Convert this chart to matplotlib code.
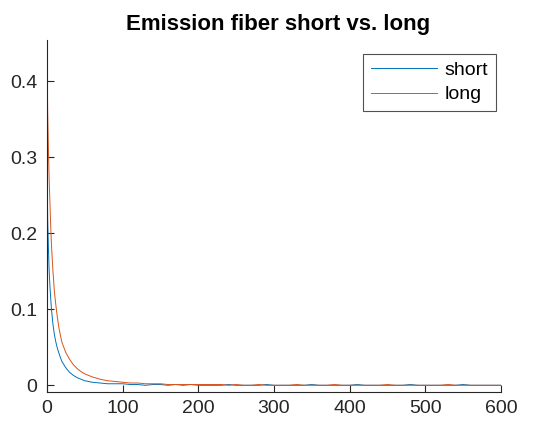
import matplotlib.pyplot as plt

plt.rcParams['font.family'] = ['Liberation Sans', 'DejaVu Sans']

# sample times and measured intensity for both fibers
t_head = [0, 1, 2, 3, 4, 5, 6, 8, 10, 12, 14, 16, 18, 20, 25, 30, 35, 40, 45,
          50, 60, 70, 80, 90]
short_head = [0.30, 0.22, 0.18, 0.15, 0.13, 0.115, 0.10, 0.08, 0.066, 0.056,
              0.048, 0.042, 0.036, 0.031, 0.023, 0.017, 0.013, 0.010, 0.008,
              0.006, 0.004, 0.003, 0.002, 0.002]
long_head = [0.44, 0.36, 0.31, 0.27, 0.24, 0.21, 0.185, 0.15, 0.122, 0.104,
             0.088, 0.075, 0.065, 0.056, 0.043, 0.034, 0.027, 0.022, 0.018,
             0.015, 0.011, 0.008, 0.006, 0.005]

t_tail = list(range(100, 601, 10))
short_tail = [0.002, 0.001, 0.001, 0.000, 0.001, 0.001, 0.000, 0.001, 0.000,
              0.001, 0.000, 0.000, 0.000, 0.000, 0.001, 0.000, 0.000, 0.000,
              0.000, 0.001, 0.000, 0.000, 0.000, 0.000, 0.000, 0.001, 0.000,
              0.000, 0.000, 0.000, 0.000, 0.001, 0.000, 0.000, 0.000, 0.000,
              0.000, 0.000, 0.001, 0.000, 0.000, 0.000, 0.000, 0.000, 0.000,
              0.001, 0.000, 0.000, 0.000, 0.000, 0.000]
long_tail = [0.004, 0.003, 0.003, 0.002, 0.002, 0.002, 0.001, 0.001, 0.001,
             0.001, 0.001, 0.001, 0.001, 0.001, 0.000, 0.001, 0.000, 0.000,
             0.001, 0.000, 0.000, 0.000, 0.000, 0.001, 0.000, 0.000, 0.000,
             0.000, 0.001, 0.000, 0.000, 0.000, 0.000, 0.000, 0.000, 0.001,
             0.000, 0.000, 0.000, 0.000, 0.000, 0.000, 0.000, 0.001, 0.000,
             0.000, 0.000, 0.000, 0.000, 0.000, 0.000]

t = t_head + t_tail
short = short_head + short_tail
long_ = long_head + long_tail

ink = '#262626'

fig = plt.figure(figsize=(5.33, 4.23), dpi=100)
ax = fig.add_axes([0.088, 0.073, 0.852, 0.832])
ax.plot(t, short, color='#0072BD', lw=0.7, label='short')
ax.plot(t, long_, color='#D95319', lw=0.7, label='long')

ax.set_xlim(0, 600)
ax.set_ylim(-0.009, 0.454)
ax.set_xticks(range(0, 601, 100))
ax.set_yticks([0, 0.1, 0.2, 0.3, 0.4])
ax.set_yticklabels(['0', '0.1', '0.2', '0.3', '0.4'])

for side in ['top', 'right']:
    ax.spines[side].set_visible(False)
for side in ['left', 'bottom']:
    ax.spines[side].set_color(ink)
    ax.spines[side].set_linewidth(0.8)
ax.tick_params(direction='in', length=5, width=0.8, color=ink,
               labelcolor=ink, labelsize=14)
ax.tick_params(axis='x', pad=6)
ax.tick_params(axis='y', pad=7)

ax.set_title('Emission fiber short vs. long', fontsize=16, x=0.51,
             fontweight='bold', color='black', pad=7)

leg = ax.legend(loc='upper right', bbox_to_anchor=(0.988, 0.962),
                fontsize=14, fancybox=False, handlelength=3.4,
                borderpad=0.4, labelspacing=0.35, handletextpad=0.35,
                borderaxespad=0)
leg.get_frame().set_edgecolor(ink)
leg.get_frame().set_linewidth(0.8)

fig.savefig('out.png', dpi=100)
